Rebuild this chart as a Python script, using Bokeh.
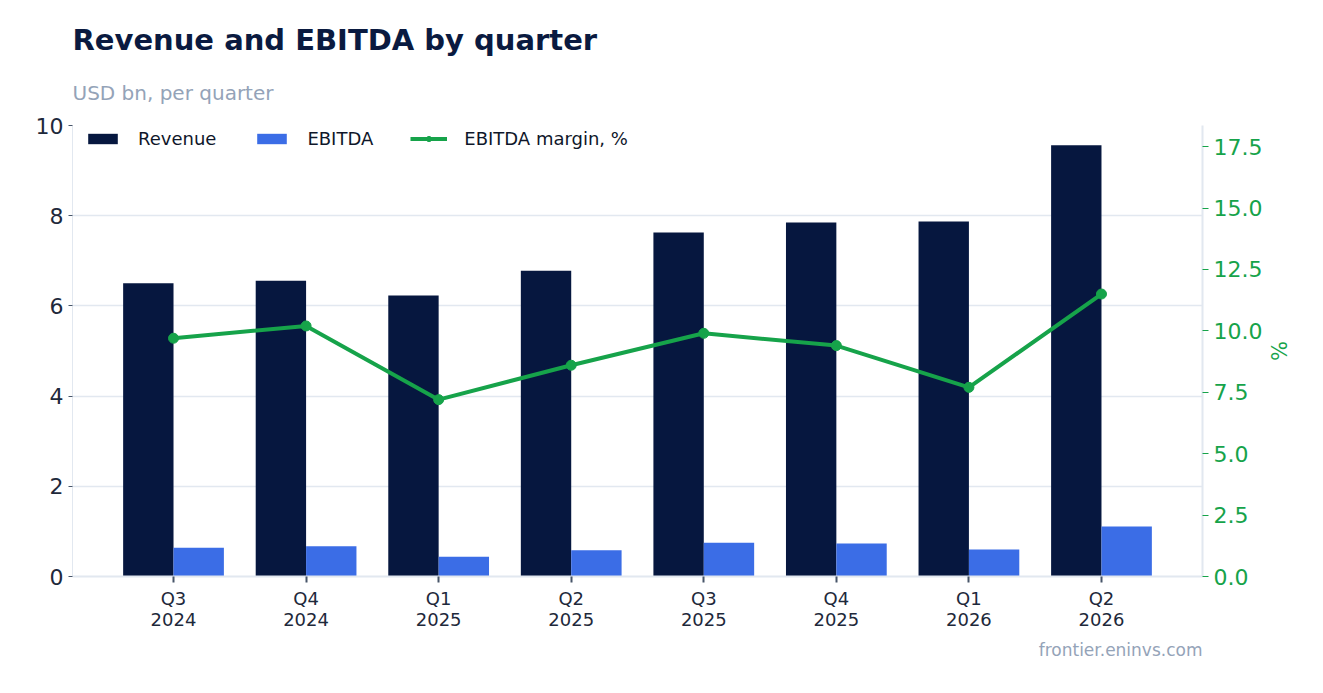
from bokeh.plotting import figure
from bokeh.models import (Range1d, LinearAxis, Title, Legend, LegendItem,
                          FixedTicker, NumeralTickFormatter, ColumnDataSource)
from bokeh.transform import dodge
from bokeh.embed import file_html
from bokeh.resources import INLINE

quarters = ["Q3 2024", "Q4 2024", "Q1 2025", "Q2 2025", "Q3 2025", "Q4 2025", "Q1 2026", "Q2 2026"]
tick_labels = ["Q3\n2024", "Q4\n2024", "Q1\n2025", "Q2\n2025", "Q3\n2025", "Q4\n2025", "Q1\n2026", "Q2\n2026"]
revenue = [6.50, 6.56, 6.23, 6.78, 7.63, 7.85, 7.87, 9.56]
ebitda = [0.64, 0.67, 0.44, 0.58, 0.75, 0.73, 0.60, 1.11]
margin = [9.7, 10.2, 7.2, 8.6, 9.9, 9.4, 7.7, 11.5]
left_ticks = [0, 2, 4, 6, 8, 10]
right_ticks = [0, 2.5, 5, 7.5, 10, 12.5, 15, 17.5]

NAVY = "#06173F"
BLUE = "#3B6DE6"
GREEN = "#16A34A"
GRID = "#E2E8F0"
GRAY = "#94A3B8"
DARK = "#1E293B"
FONT = "DejaVu Sans"

xs = list(range(len(quarters)))
src = ColumnDataSource(dict(x=xs, q=quarters, revenue=revenue, ebitda=ebitda, margin=margin))

p = figure(width=1310, height=685, x_range=Range1d(-0.762, len(quarters) - 1 + 0.762),
           y_range=Range1d(0, 10), output_backend="svg", toolbar_location=None,
           min_border_left=72, min_border_right=108, min_border_top=125, min_border_bottom=109)
p.extra_y_ranges = {"pct": Range1d(0, 18.36)}
p.outline_line_color = None
p.background_fill_color = "white"
p.border_fill_color = "white"

r1 = p.vbar(x=dodge("x", -0.19), top="revenue", width=0.38, source=src,
            fill_color=NAVY, line_color=None)
r2 = p.vbar(x=dodge("x", 0.19), top="ebitda", width=0.38, source=src,
            fill_color=BLUE, line_color=None)
l1 = p.line(x="x", y="margin", source=src, y_range_name="pct", line_color=GREEN, line_width=4)
s1 = p.scatter(x="x", y="margin", source=src, y_range_name="pct", size=10,
               fill_color=GREEN, line_color=GREEN)

# axes
p.xgrid.grid_line_color = None
p.ygrid.grid_line_color = GRID
p.ygrid.grid_line_width = 1.5

p.xaxis.ticker = FixedTicker(ticks=xs)
p.xaxis.major_label_overrides = {i: t for i, t in zip(xs, tick_labels)}
p.xaxis.major_label_text_font = FONT
p.xaxis.major_label_text_font_size = "18px"
p.xaxis.major_label_text_color = DARK
p.xaxis.major_label_text_line_height = 1.0
p.xaxis.axis_line_color = GRID
p.xaxis.axis_line_width = 2
p.xaxis.major_tick_line_color = "#475569"
p.xaxis.major_tick_line_width = 2
p.xaxis.major_tick_out = 6
p.xaxis.major_tick_in = 0
p.xaxis.minor_tick_line_color = None

p.yaxis.ticker = FixedTicker(ticks=left_ticks)
p.yaxis.major_label_text_font = FONT
p.yaxis.major_label_text_font_size = "22px"
p.yaxis.major_label_text_color = DARK
p.yaxis.axis_line_color = GRID
p.yaxis.major_tick_line_color = "#475569"
p.yaxis.major_tick_out = 4
p.yaxis.major_tick_in = 0
p.yaxis.minor_tick_line_color = None

ax2 = LinearAxis(y_range_name="pct", ticker=FixedTicker(ticks=right_ticks),
                 formatter=NumeralTickFormatter(format="0.0"), axis_label="%")
ax2.major_label_text_font = FONT
ax2.major_label_text_font_size = "22px"
ax2.major_label_text_color = GREEN
ax2.axis_label_text_font = FONT
ax2.axis_label_text_font_size = "21px"
ax2.axis_label_text_color = GREEN
ax2.axis_label_text_font_style = "normal"
ax2.axis_label_standoff = 1
ax2.axis_line_color = GRID
ax2.axis_line_width = 2
ax2.major_tick_line_color = GREEN
ax2.major_tick_out = 6
ax2.major_tick_in = 0
ax2.minor_tick_line_color = None
p.add_layout(ax2, "right")

legend = Legend(items=[LegendItem(label="Revenue", renderers=[r1]),
                       LegendItem(label="EBITDA", renderers=[r2]),
                       LegendItem(label="EBITDA margin, %", renderers=[l1, s1])],
                orientation="horizontal", location=(12, 427), padding=4, margin=0,
                glyph_width=37, glyph_height=13, label_standoff=17, spacing=37,
                label_text_font=FONT, label_text_font_size="18px", label_text_color="#0F172A",
                border_line_color=None, background_fill_alpha=0)
p.add_layout(legend)

sub = Title(text="USD bn, per quarter", text_font=FONT, text_font_size="20px",
            text_font_style="normal", text_color=GRAY, align="left", standoff=41)
p.add_layout(sub, "above")
main = Title(text="Revenue and EBITDA by quarter", text_font=FONT, text_font_size="29px",
             text_font_style="bold", text_color="#0A1A40", align="left", standoff=4)
p.add_layout(main, "above")

foot = Title(text="frontier.eninvs.com", text_font=FONT, text_font_size="17px",
             text_font_style="normal", text_color=GRAY, align="right", standoff=10)
p.add_layout(foot, "below")

open("out.html", "w").write(file_html(p, INLINE))
